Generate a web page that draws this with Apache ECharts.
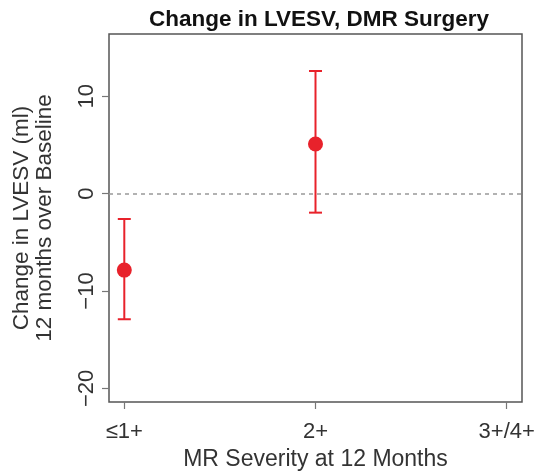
<!DOCTYPE html>
<html><head><meta charset="utf-8">
<script src="https://cdn.jsdelivr.net/npm/echarts@6/dist/echarts.min.js"></script>
<style>html,body{margin:0;padding:0;background:#fff}#c{width:539px;height:476px}</style>
</head><body><div id="c"></div>
<script>
var categories = ['≤1+', '2+', '3+/4+'];
var positions = [1, 2, 3];
var means = [-7.85, 5.1];
var lower = [-12.9, -1.95];
var upper = [-2.6, 12.6];
var yTicks = [-20, -10, 0, 10];

var chart = echarts.init(document.getElementById('c'));
var red = '#e8222b';
var font = 'Liberation Sans, Arial, Helvetica, sans-serif';
var errData = means.map(function (m, i) { return [positions[i], lower[i], upper[i]]; });
var ptData = means.map(function (m, i) { return [positions[i], m]; });

chart.setOption({
  animation: false,
  title: {
    text: 'Change in LVESV, DMR Surgery',
    left: 144, top: 3,
    textStyle: { fontFamily: font, fontWeight: 'bold', fontSize: 22.5, color: '#111' }
  },
  grid: { left: 109, right: 17, top: 34, bottom: 74, show: true, borderColor: '#555', borderWidth: 1.5, backgroundColor: '#fff' },
  xAxis: {
    type: 'value', min: 0.92, max: 3.08,
    splitLine: { show: false },
    axisLine: { show: false, onZero: false },
    axisTick: { show: true, length: 7, lineStyle: { color: '#777', width: 1.2 }, customValues: positions },
    axisLabel: { customValues: positions, margin: 19, fontSize: 22, fontFamily: font, color: '#333',
      formatter: function (v) { return categories[Math.round(v) - 1]; } },
    name: 'MR Severity at 12 Months', nameLocation: 'middle', nameGap: 43,
    nameTextStyle: { fontSize: 23, fontFamily: font, color: '#333' }
  },
  yAxis: {
    type: 'value', min: -21.4, max: 16.4,
    splitLine: { show: false },
    axisLine: { show: false, onZero: false },
    axisTick: { show: true, length: 7, lineStyle: { color: '#777', width: 1.2 }, customValues: yTicks },
    axisLabel: { customValues: yTicks, rotate: 90, margin: 11, fontSize: 22, fontFamily: font, color: '#333',
      formatter: function (v) { return String(v).replace('-', '\u2212'); } },
    name: 'Change in LVESV (ml)\n12 months over Baseline', nameLocation: 'middle', nameRotate: 90, nameGap: 53,
    nameTextStyle: { fontSize: 22.5, fontFamily: font, color: '#333', lineHeight: 23 }
  },
  series: [
    {
      type: 'custom',
      data: errData,
      renderItem: function (params, api) {
        var x = api.value(0);
        var lo = api.coord([x, api.value(1)]);
        var hi = api.coord([x, api.value(2)]);
        var w = 6.5;
        var st = { stroke: red, lineWidth: 2 };
        return { type: 'group', children: [
          { type: 'line', shape: { x1: lo[0], y1: lo[1], x2: hi[0], y2: hi[1] }, style: st },
          { type: 'line', shape: { x1: lo[0] - w, y1: lo[1], x2: lo[0] + w, y2: lo[1] }, style: st },
          { type: 'line', shape: { x1: hi[0] - w, y1: hi[1], x2: hi[0] + w, y2: hi[1] }, style: st }
        ] };
      },
      markLine: {
        silent: true, symbol: 'none', label: { show: false },
        lineStyle: { color: '#999', type: [4, 4], width: 1.5 },
        data: [{ yAxis: 0 }]
      },
      z: 2
    },
    {
      type: 'scatter', data: ptData, symbolSize: 15,
      itemStyle: { color: red, opacity: 1 }, z: 3
    }
  ]
});
</script></body></html>
